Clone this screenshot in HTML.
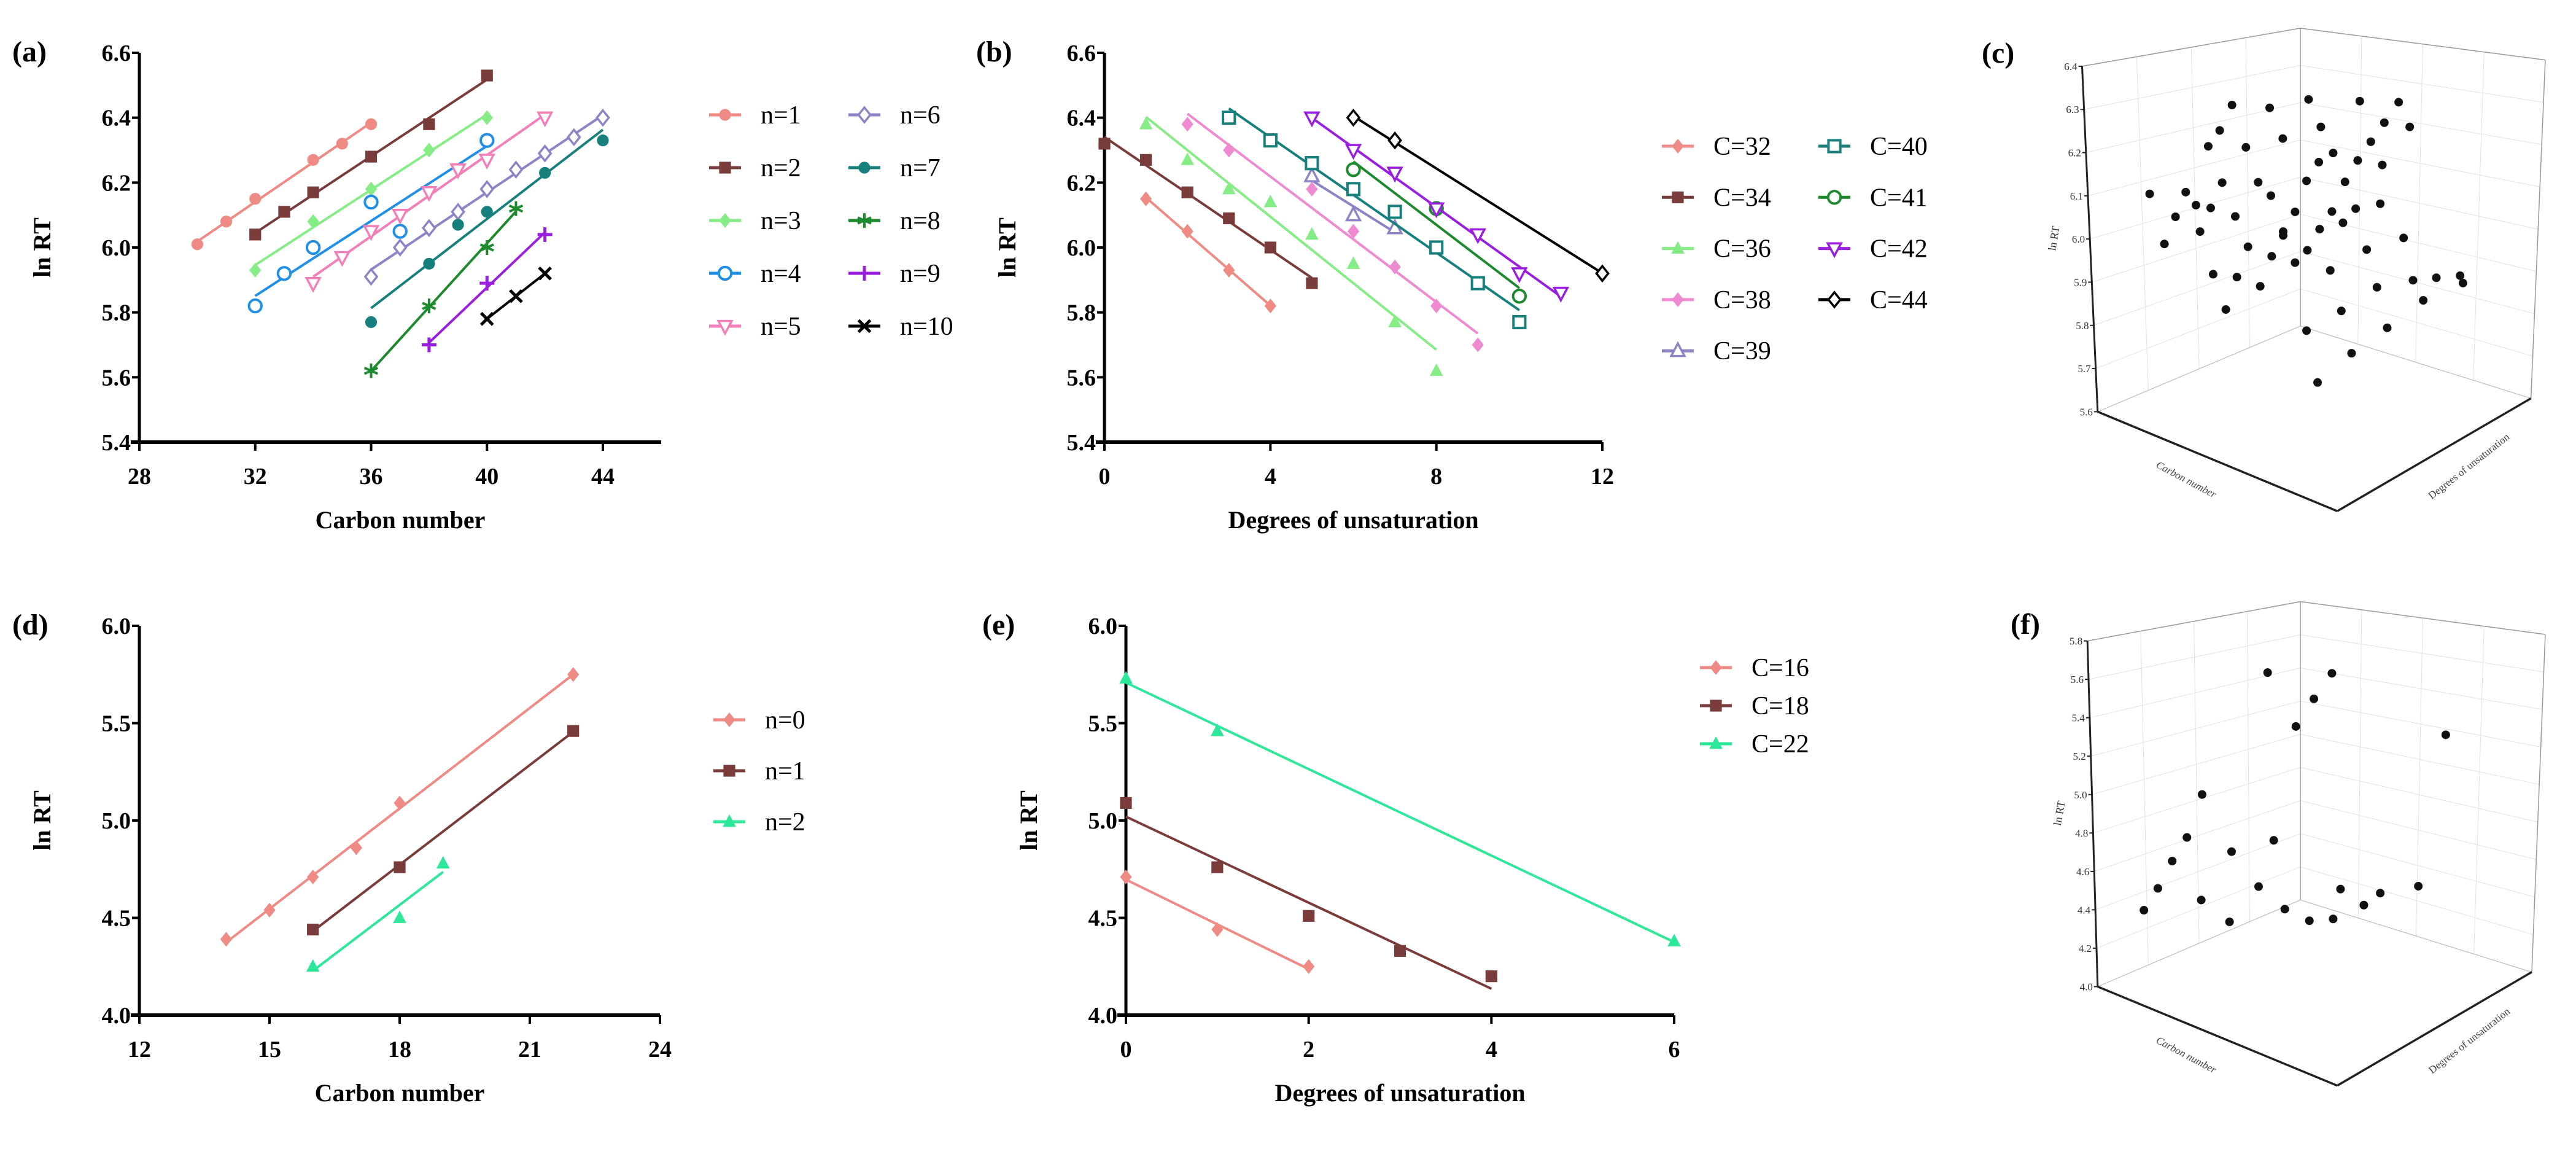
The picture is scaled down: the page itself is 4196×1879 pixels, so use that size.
<!DOCTYPE html>
<html><head><meta charset="utf-8"><style>
body{margin:0;background:#fff}
svg{display:block}
text{font-family:"Liberation Serif",serif}
</style></head><body>
<svg id="fig" width="4196" height="1879" viewBox="0 0 4196 1879" xmlns="http://www.w3.org/2000/svg">
<g id="root"></g>
</svg>
<script>
// ---------- Panel (a) data ----------
const aNames=["n=1","n=2","n=3","n=4","n=5","n=6","n=7","n=8","n=9","n=10"];
const aX=[[30,31,32,34,35,36],[32,33,34,36,38,40],[32,34,36,38,40],[32,33,34,36,37,40],[34,35,36,37,38,39,40,42],[36,37,38,39,40,41,42,43,44],[36,38,39,40,42,44],[36,38,40,41],[38,40,42],[40,41,42]];
const aY=[[6.01,6.08,6.15,6.27,6.32,6.38],[6.04,6.11,6.17,6.28,6.38,6.53],[5.93,6.08,6.18,6.30,6.40],[5.82,5.92,6.00,6.14,6.05,6.33],[5.89,5.97,6.05,6.10,6.17,6.24,6.27,6.40],[5.91,6.00,6.06,6.11,6.18,6.24,6.29,6.34,6.40],[5.77,5.95,6.07,6.11,6.23,6.33],[5.62,5.82,6.00,6.12],[5.70,5.89,6.04],[5.78,5.85,5.92]];
const aXTicks=[28,32,36,40,44];
const aYTicks=[5.4,5.6,5.8,6.0,6.2,6.4,6.6];
// ---------- Panel (b) data ----------
const bNames=["C=32","C=34","C=36","C=38","C=39","C=40","C=41","C=42","C=44"];
const bX=[[1,2,3,4],[0,1,2,3,4,5],[1,2,3,4,5,6,7,8],[2,3,5,6,7,8,9],[5,6,7],[3,4,5,6,7,8,9,10],[6,8,10],[5,6,7,8,9,10,11],[6,7,12]];
const bY=[[6.15,6.05,5.93,5.82],[6.32,6.27,6.17,6.09,6.00,5.89],[6.38,6.27,6.18,6.14,6.04,5.95,5.77,5.62],[6.38,6.30,6.18,6.05,5.94,5.82,5.70],[6.22,6.10,6.06],[6.40,6.33,6.26,6.18,6.11,6.00,5.89,5.77],[6.24,6.12,5.85],[6.40,6.30,6.23,6.12,6.04,5.92,5.86],[6.40,6.33,5.92]];
const bXTicks=[0,4,8,12];
const bYTicks=[5.4,5.6,5.8,6.0,6.2,6.4,6.6];
// ---------- Panel (d) data ----------
const dNames=["n=0","n=1","n=2"];
const dX=[[14,15,16,17,18,22],[16,18,22],[16,18,19]];
const dY=[[4.39,4.54,4.71,4.86,5.09,5.75],[4.44,4.76,5.46],[4.25,4.50,4.78]];
const dXTicks=[12,15,18,21,24];
const dYTicks=[4.0,4.5,5.0,5.5,6.0];
// ---------- Panel (e) data ----------
const eNames=["C=16","C=18","C=22"];
const eX=[[0,1,2],[0,1,2,3,4],[0,1,6]];
const eY=[[4.71,4.44,4.25],[5.09,4.76,4.51,4.33,4.20],[5.73,5.46,4.38]];
const eXTicks=[0,2,4,6];
const eYTicks=[4.0,4.5,5.0,5.5,6.0];
// ---------- Panel (c)/(f) projected scatter (view units 0-1568) ----------
const cU=[527,563,590,615,640,650,670,676,682,698,704,713,728,736,740,762,767,792,797,820,823,825,852,853,853,882,882,910,912,915,910,937,940,942,945,968,972,975,995,999,1004,1020,1030,1035,1040,1057,1067,1082,1090,1095,1100,1107,1135,1147,1162,1170,1195,1227,1285,1292];
const cV=[550,692,615,545,582,657,415,590,778,370,518,878,298,614,786,418,700,517,812,306,555,727,393,657,668,601,745,513,710,282,938,1085,460,650,360,767,600,434,882,632,516,1002,592,455,287,708,402,815,578,468,348,930,290,675,360,795,852,788,782,803];
const fU=[815,972,928,884,1250,655,618,830,727,582,547,793,993,1183,1090,653,1050,513,857,722,917,975];
const fV=[245,247,317,393,416,580,698,706,737,763,838,833,840,832,851,870,884,898,895,930,927,922];
const cZTicks=["5.6","5.7","5.8","5.9","6.0","6.1","6.2","6.3","6.4"];
const fZTicks=["4.0","4.2","4.4","4.6","4.8","5.0","5.2","5.4","5.6","5.8"];

const NS="http://www.w3.org/2000/svg";
const root=document.getElementById('root');
function mk(tag,attrs,parent,txt){const e=document.createElementNS(NS,tag);for(const k in attrs)e.setAttribute(k,attrs[k]);if(txt!==undefined)e.textContent=txt;(parent||root).appendChild(e);return e;}

const styles={
 "n=1":{c:"#f08a84",m:"dot"},"n=2":{c:"#7a3b3b",m:"sq"},"n=3":{c:"#86ec86",m:"dia"},"n=4":{c:"#1f8fe8",m:"ocirc"},"n=5":{c:"#f27fb8",m:"otri"},
 "n=6":{c:"#8c84c6",m:"odia"},"n=7":{c:"#17807c",m:"dot"},"n=8":{c:"#1e8a2e",m:"star"},"n=9":{c:"#9a1ee0",m:"plus"},"n=10":{c:"#000",m:"x"},
 "C=32":{c:"#f08a84",m:"dia"},"C=34":{c:"#7a3b3b",m:"sq"},"C=36":{c:"#86ec86",m:"tri"},"C=38":{c:"#f08ad0",m:"dia"},"C=39":{c:"#8c84c6",m:"otriu"},
 "C=40":{c:"#17807c",m:"osq"},"C=41":{c:"#1e8a2e",m:"ocirc"},"C=42":{c:"#9a1ee0",m:"otri"},"C=44":{c:"#000",m:"odia"}
};
const stylesLow={"n=0":{c:"#f08a84",m:"dia"},"n=1":{c:"#7a3b3b",m:"sq"},"n=2":{c:"#2ee89a",m:"tri"},"C=16":{c:"#f08a84",m:"dia"},"C=18":{c:"#7a3b3b",m:"sq"},"C=22":{c:"#2ee89a",m:"tri"}};

function marker(g,m,x,y,c,s){
 s=s||12;let e;
 if(m==="dot")e=mk('circle',{cx:x,cy:y,r:s*0.8,fill:c},g);
 else if(m==="ocirc")e=mk('circle',{cx:x,cy:y,r:s*0.85,fill:"#fff",stroke:c,'stroke-width':4},g);
 else if(m==="sq")e=mk('rect',{x:x-s*0.8,y:y-s*0.8,width:s*1.6,height:s*1.6,fill:c},g);
 else if(m==="osq")e=mk('rect',{x:x-s*0.8,y:y-s*0.8,width:s*1.6,height:s*1.6,fill:"#fff",stroke:c,'stroke-width':4},g);
 else if(m==="dia")e=mk('polygon',{points:`${x},${y-s} ${x+s*0.8},${y} ${x},${y+s} ${x-s*0.8},${y}`,fill:c},g);
 else if(m==="odia")e=mk('polygon',{points:`${x},${y-s} ${x+s*0.8},${y} ${x},${y+s} ${x-s*0.8},${y}`,fill:"#fff",stroke:c,'stroke-width':3.5},g);
 else if(m==="tri")e=mk('polygon',{points:`${x},${y-s} ${x+s*0.9},${y+s*0.7} ${x-s*0.9},${y+s*0.7}`,fill:c},g);
 else if(m==="otriu")e=mk('polygon',{points:`${x},${y-s} ${x+s*0.9},${y+s*0.7} ${x-s*0.9},${y+s*0.7}`,fill:"#fff",stroke:c,'stroke-width':3.5},g);
 else if(m==="otri")e=mk('polygon',{points:`${x},${y+s} ${x+s*0.9},${y-s*0.7} ${x-s*0.9},${y-s*0.7}`,fill:"#fff",stroke:c,'stroke-width':3.5},g);
 else if(m==="star")e=mk('path',{d:`M${x},${y-s} L${x},${y+s} M${x-s*0.9},${y-s*0.4} L${x+s*0.9},${y+s*0.4} M${x+s*0.9},${y-s*0.4} L${x-s*0.9},${y+s*0.4}`,stroke:c,'stroke-width':4},g);
 else if(m==="plus")e=mk('path',{d:`M${x},${y-s} L${x},${y+s} M${x-s},${y} L${x+s},${y}`,stroke:c,'stroke-width':5},g);
 else if(m==="x")e=mk('path',{d:`M${x-s*0.8},${y-s*0.8} L${x+s*0.8},${y+s*0.8} M${x+s*0.8},${y-s*0.8} L${x-s*0.8},${y+s*0.8}`,stroke:c,'stroke-width':5},g);
 return e;
}
function fit(xs,ys){const n=xs.length;let sx=0,sy=0,sxx=0,sxy=0;for(let i=0;i<n;i++){sx+=xs[i];sy+=ys[i];sxx+=xs[i]*xs[i];sxy+=xs[i]*ys[i];}const b=(n*sxy-sx*sy)/(n*sxx-sx*sx);return{b:b,a:(sy-b*sx)/n};}

function panel(o){
 const g=mk('g',{},root);
 
 
 const X=v=>o.px0+(v-o.xmin)/(o.xmax-o.xmin)*(o.px1-o.px0);
 const Y=v=>o.py0-(v-o.ymin)/(o.ymax-o.ymin)*(o.py0-o.py1);
 // axes
 const ya=mk('line',{x1:o.px0,y1:o.py1,x2:o.px0,y2:o.py0+2,stroke:"#000",'stroke-width':5},g);
 
 const xa=mk('line',{x1:o.px0-14,y1:o.py0,x2:o.axEnd,y2:o.py0,stroke:"#000",'stroke-width':6},g);
 
 o.yt.forEach(v=>{mk('line',{x1:o.px0-12,y1:Y(v),x2:o.px0,y2:Y(v),stroke:"#000",'stroke-width':4},g);
  const t=mk('text',{x:o.px0-14,y:Y(v)+13,'text-anchor':'end','font-size':38,'font-weight':'bold'},g,v.toFixed(1));
  });
 o.xt.forEach(v=>{mk('line',{x1:X(v),y1:o.py0,x2:X(v),y2:o.py0+14,stroke:"#000",'stroke-width':4},g);
  const t=mk('text',{x:X(v),y:o.py0+68,'text-anchor':'middle','font-size':38,'font-weight':'bold'},g,String(v));
  });
 const xt=mk('text',{x:(o.px0+o.axEnd)/2,y:o.py0+140,'text-anchor':'middle','font-size':40,'font-weight':'bold'},g,o.xlabel);
 
 const yc=(o.py0+o.py1)/2;
 const yt=mk('text',{x:o.px0-145,y:yc,'text-anchor':'middle','font-size':40,'font-weight':'bold',transform:`rotate(-90 ${o.px0-145} ${yc})`},g,"ln RT");
 
 const pl=mk('text',{x:o.lab[0],y:o.lab[1],'font-size':48,'font-weight':'bold'},g,o.letter);
 
 // series
 o.names.forEach((nm,i)=>{
  const st=o.st[nm];const sg=mk('g',{},g);
  
  
  const xs=o.xs[i],ys=o.ys[i];const f=fit(xs,ys);
  const x0=Math.min(...xs),x1=Math.max(...xs);
  const ln=mk('line',{x1:X(x0),y1:Y(f.a+f.b*x0),x2:X(x1),y2:Y(f.a+f.b*x1),stroke:st.c,'stroke-width':4},sg);
  
  xs.forEach((x,j)=>{const mm=marker(sg,st.m,X(x),Y(ys[j]),st.c,12);
   });
  // legend
  const [lx,ly]=o.leg(i);
  const lg=mk('g',{},g);
  
  mk('line',{x1:lx-26,y1:ly,x2:lx+26,y2:ly,stroke:st.c,'stroke-width':5},lg);
  marker(lg,st.m,lx,ly,st.c,12);
  mk('text',{x:lx+58,y:ly+14,'font-size':42},lg,nm);
 });
}
panel({name:'panel-a',letter:'(a)',lab:[20,100],px0:227,px1:982,xmin:28,xmax:44,py0:720,py1:86,ymin:5.4,ymax:6.6,axEnd:1077,xt:aXTicks,yt:aYTicks,xlabel:'Carbon number',names:aNames,xs:aX,ys:aY,st:styles,leg:i=>[i<5?1181:1408,187+(i%5)*86]});
panel({name:'panel-b',letter:'(b)',lab:[1590,100],px0:1799,px1:2610,xmin:0,xmax:12,py0:720,py1:86,ymin:5.4,ymax:6.6,axEnd:2610,xt:bXTicks,yt:bYTicks,xlabel:'Degrees of unsaturation',names:bNames,xs:bX,ys:bY,st:styles,leg:i=>[i<5?2733:2988,238+(i<5?i:i-5)*83.3]});
panel({name:'panel-d',letter:'(d)',lab:[20,1033],px0:227,px1:1075,xmin:12,xmax:24,py0:1653,py1:1019,ymin:4,ymax:6,axEnd:1075,xt:dXTicks,yt:dYTicks,xlabel:'Carbon number',names:dNames,xs:dX,ys:dY,st:stylesLow,leg:i=>[1188,1172+i*83]});
panel({name:'panel-e',letter:'(e)',lab:[1600,1033],px0:1834,px1:2727,xmin:0,xmax:6,py0:1653,py1:1019,ymin:4,ymax:6,axEnd:2727,xt:eXTicks,yt:eYTicks,xlabel:'Degrees of unsaturation',names:eNames,xs:eX,ys:eY,st:stylesLow,leg:i=>[2795,1087+i*62]});

// ---------- 3D panels ----------
function cube(o){
 const g=mk('g',{},root);
 
 const P=(u,v)=>[o.ox+u*o.sx,o.oy+v*o.sy];
 const f=o.frame;
 const L=(a,b,w,c)=>{const p=P(...a),q=P(...b);return mk('line',{x1:p[0],y1:p[1],x2:q[0],y2:q[1],stroke:c||"#999",'stroke-width':w||1.5},g);};
 // faint grid on back walls
 for(let k=1;k<o.zt.length-1;k++){const t=k/(o.zt.length-1);
  const lb=[f.lt[0]+(f.lb[0]-f.lt[0])*(1-t),f.lt[1]+(f.lb[1]-f.lt[1])*(1-t)];
  const bb=[f.bt[0],f.bt[1]+(f.bb[1]-f.bt[1])*(1-t)];
  const rb=[f.rt[0]+(f.rb[0]-f.rt[0])*(1-t),f.rt[1]+(f.rb[1]-f.rt[1])*(1-t)];
  L(lb,bb,1,"#e2e2e2");L(bb,rb,1,"#e2e2e2");}
 for(let k=1;k<4;k++){const t=k/4;
  L([f.lt[0]+(f.bt[0]-f.lt[0])*t,f.lt[1]+(f.bt[1]-f.lt[1])*t],[f.lb[0]+(f.bb[0]-f.lb[0])*t,f.lb[1]+(f.bb[1]-f.lb[1])*t],1,"#e2e2e2");
  L([f.bt[0]+(f.rt[0]-f.bt[0])*t,f.bt[1]+(f.rt[1]-f.bt[1])*t],[f.bb[0]+(f.rb[0]-f.bb[0])*t,f.bb[1]+(f.rb[1]-f.bb[1])*t],1,"#e2e2e2");}
 L(f.lt,f.bt);L(f.bt,f.rt);L(f.bt,f.bb);L(f.rt,f.rb);L(f.lb,f.bb,1.2,"#bbb");L(f.bb,f.rb,1.2,"#bbb");
 L(f.lt,f.lb,3,"#222");L(f.lb,f.fb,3.5,"#222");L(f.fb,f.rb,3.5,"#222");
 o.zt.forEach((s,k)=>{const t=k/(o.zt.length-1);const p=P(f.lt[0]+(f.lb[0]-f.lt[0])*(1-t),f.lt[1]+(f.lb[1]-f.lt[1])*(1-t));
  mk('line',{x1:p[0]-6,y1:p[1],x2:p[0],y2:p[1],stroke:"#222",'stroke-width':2},g);
  const tt=mk('text',{x:p[0]-8,y:p[1]+6,'text-anchor':'end','font-size':17,fill:'#333','font-family':'Liberation Sans, sans-serif'},g,s);
  });
 const zp=P(f.lt[0]-60,(f.lt[1]+f.lb[1])/2);
 const zt=mk('text',{x:zp[0],y:zp[1],'text-anchor':'middle','font-size':18,fill:'#333','font-family':'Liberation Sans, sans-serif',transform:`rotate(-80 ${zp[0]} ${zp[1]})`},g,'ln RT');
 
 const cp=P((f.lb[0]+f.fb[0])/2-80,(f.lb[1]+f.fb[1])/2+60);
 const ct=mk('text',{x:cp[0],y:cp[1],'text-anchor':'middle','font-size':17,fill:'#444','font-style':'italic','font-family':'Liberation Sans, sans-serif',transform:`rotate(28 ${cp[0]} ${cp[1]})`},g,'Carbon number');
 
 const dp=P((f.fb[0]+f.rb[0])/2+90,(f.fb[1]+f.rb[1])/2+40);
 const dt=mk('text',{x:dp[0],y:dp[1],'text-anchor':'middle','font-size':17,fill:'#444','font-family':'Liberation Sans, sans-serif',transform:`rotate(-38 ${dp[0]} ${dp[1]})`},g,'Degrees of unsaturation');
 
 o.u.forEach((u,i)=>{const p=P(u,o.v[i]);const c=mk('circle',{cx:p[0],cy:p[1],r:7,fill:'#111'},g);
  });
 const pl=mk('text',{x:o.lab[0],y:o.lab[1],'font-size':48,'font-weight':'bold'},g,o.letter);
 
}
cube({name:'panel-c',letter:'(c)',lab:[3228,102],ox:3150,oy:0,sx:1046/1568,sy:900/1568,u:cU,v:cV,zt:cZTicks,
 frame:{lt:[362,188],bt:[895,80],rt:[1493,170],lb:[400,1168],bb:[895,925],rb:[1458,1130],fb:[985,1450]}});
cube({name:'panel-f',letter:'(f)',lab:[3275,1032],ox:3150,oy:950,sx:1046/1568,sy:929/1568,u:fU,v:fV,zt:fZTicks,
 frame:{lt:[375,158],bt:[895,50],rt:[1493,140],lb:[400,1108],bb:[895,870],rb:[1460,1068],fb:[985,1380]}});
</script>
</body></html>
